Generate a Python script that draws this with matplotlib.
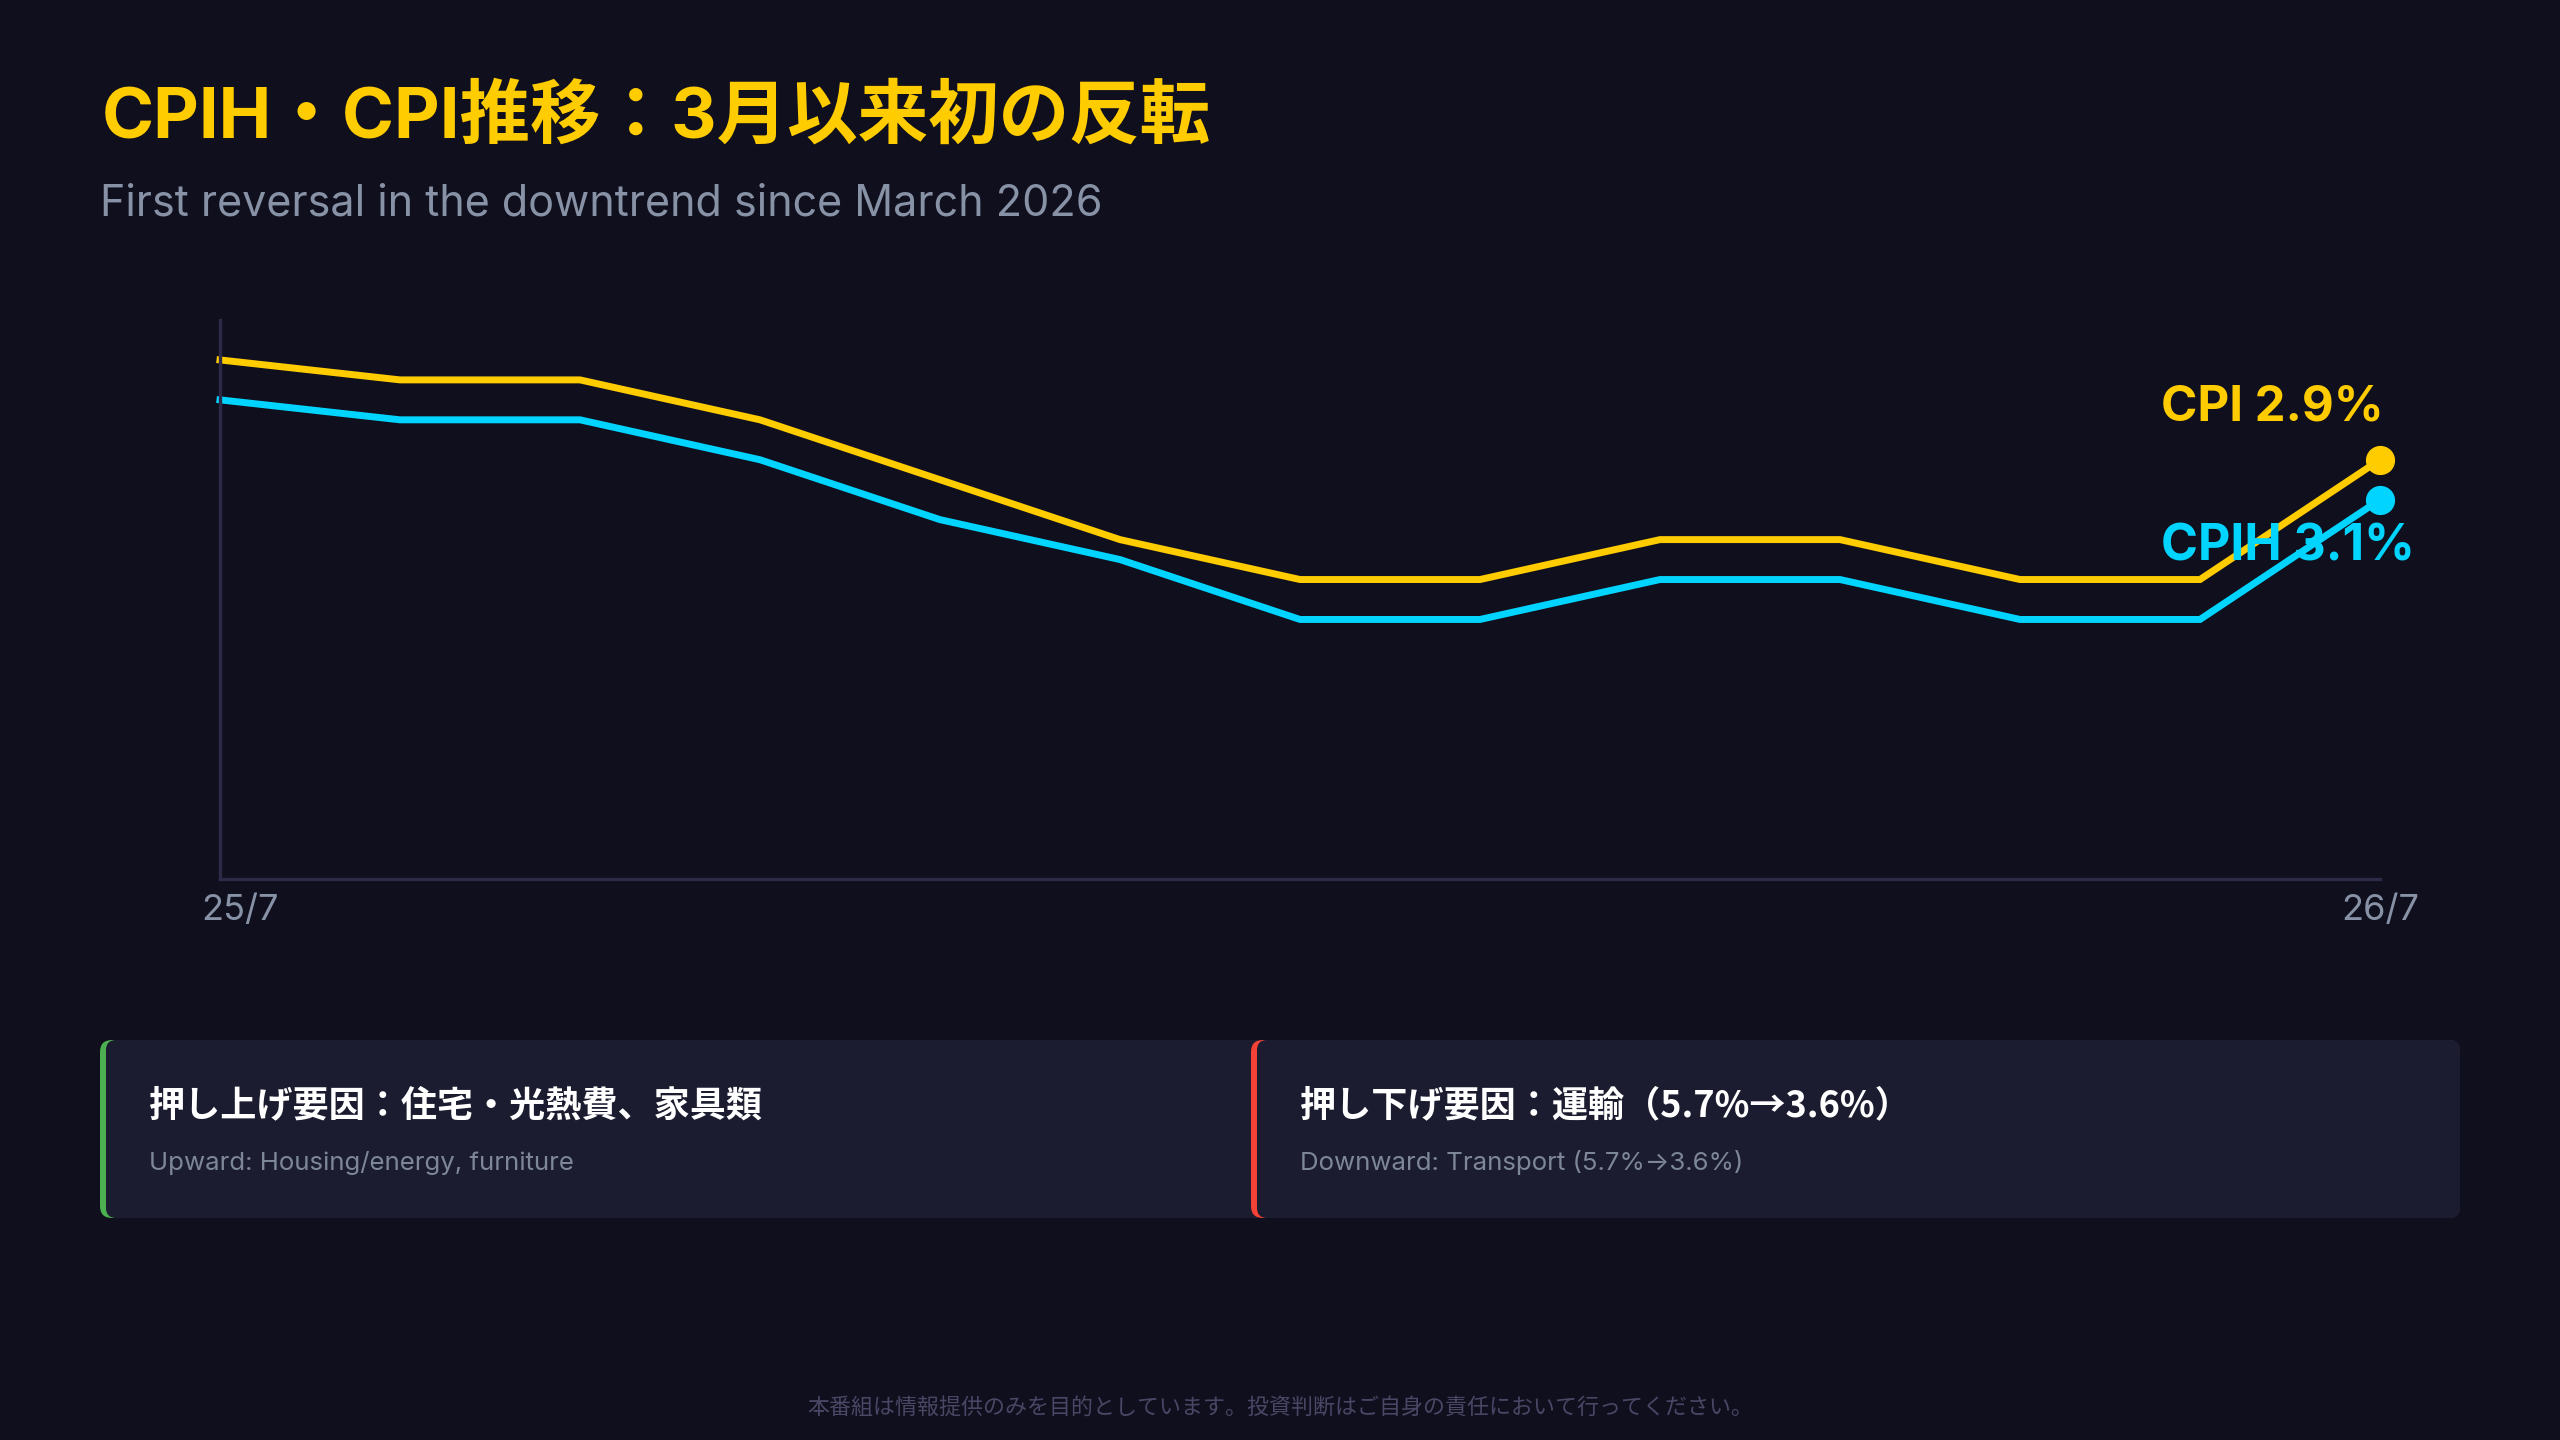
import matplotlib
matplotlib.use('Agg')
import matplotlib.pyplot as plt
from matplotlib.patches import FancyBboxPatch

plt.rcParams['font.family'] = ['Inter', 'Noto Sans CJK JP', 'DejaVu Sans']

# data
months = ['25/7', '25/8', '25/9', '25/10', '25/11', '25/12', '26/1',
          '26/2', '26/3', '26/4', '26/5', '26/6', '26/7']
cpi_vals = [3.6, 3.5, 3.5, 3.3, 3.0, 2.7, 2.5, 2.5, 2.7, 2.7, 2.5, 2.5, 3.1]
cpih_vals = [3.4, 3.3, 3.3, 3.1, 2.8, 2.6, 2.3, 2.3, 2.5, 2.5, 2.3, 2.3, 2.9]
cpi_label = 'CPI 2.9%'
cpih_label = 'CPIH 3.1%'

title = 'CPIH・CPI推移：3月以来初の反転'
subtitle = 'First reversal in the downtrend since March 2026'
cards = [
    ('押し上げ要因：住宅・光熱費、家具類', 'Upward: Housing/energy, furniture', '#4caf50'),
    ('押し下げ要因：運輸（5.7%→3.6%）', 'Downward: Transport (5.7%→3.6%)', '#f44336'),
]
footer = '本番組は情報提供のみを目的としています。投資判断はご自身の責任において行ってください。'

BG = '#0f0f1d'
CARD = '#1b1c2f'
YELLOW = '#ffcc00'
CYAN = '#00d4ff'
GRAY = '#8892a6'
SPINE = '#2d2a48'

W, H = 2560, 1440
fig = plt.figure(figsize=(W / 100, H / 100), dpi=100, facecolor=BG)

# overlay in pixel coordinates for text and cards
bg = fig.add_axes([0, 0, 1, 1], zorder=0)
bg.set_xlim(0, W)
bg.set_ylim(H, 0)
bg.axis('off')

bg.text(102, 138, title, color=YELLOW, fontsize=50.8, fontweight='bold', va='baseline')
bg.text(100, 215, subtitle, color=GRAY, fontsize=31, va='baseline')

# cards
card_boxes = [(100, 1265), (1251, 2460)]
for (x0, x1), (head, sub, accent) in zip(card_boxes, cards):
    bg.add_patch(FancyBboxPatch((x0, 1040), x1 - x0, 178,
                                boxstyle='round,pad=0,rounding_size=12',
                                fc=accent, ec='none'))
    bg.add_patch(FancyBboxPatch((x0 + 6, 1040), x1 - x0 - 6, 178,
                                boxstyle='round,pad=0,rounding_size=10',
                                fc=CARD, ec='none'))
    bg.text(x0 + 49, 1106, head, color='white', fontsize=26, fontweight='bold', va='center',
            family=['Noto Sans CJK JP', 'DejaVu Sans'])
    bg.text(x0 + 49, 1170, sub, color='#7d8799', fontsize=18.6, va='baseline')

bg.text(1280, 1408, footer, color='#4a4766', fontsize=15.8, ha='center', va='center')

# chart
ax = fig.add_axes([220 / W, 1 - 879 / H, 2160 / W, 559 / H], zorder=1)
ax.set_facecolor('none')
x = list(range(len(months)))
ax.plot(x, cpi_vals, color=YELLOW, lw=5, solid_joinstyle='miter', clip_on=False)
ax.plot(x, cpih_vals, color=CYAN, lw=5, solid_joinstyle='miter', clip_on=False)
ax.plot(x[-1], cpi_vals[-1], 'o', color=YELLOW, ms=20, clip_on=False)
ax.plot(x[-1], cpih_vals[-1], 'o', color=CYAN, ms=20, clip_on=False)

ax.set_xlim(0, len(months) - 1)
ax.set_ylim(1.0, 3.8)
ax.set_xticks([])
ax.set_yticks([])
for side in ['top', 'right']:
    ax.spines[side].set_visible(False)
for side in ['left', 'bottom']:
    ax.spines[side].set_color(SPINE)
    ax.spines[side].set_linewidth(2.4)

ax.annotate(cpi_label, (x[-1], cpi_vals[-1]), xytext=(-219, 39), textcoords='offset pixels',
            color=YELLOW, fontsize=35.4, fontweight='bold', va='baseline', ha='left')
ax.annotate(cpih_label, (x[-1], cpih_vals[-1]), xytext=(-219, -61), textcoords='offset pixels',
            color=CYAN, fontsize=36, fontweight='bold', va='baseline', ha='left')

ax.annotate(months[0], (x[0], 1.0), xytext=(-19, -41), textcoords='offset pixels',
            color=GRAY, fontsize=26, va='baseline', ha='left')
ax.annotate(months[-1], (x[-1], 1.0), xytext=(0, -41), textcoords='offset pixels',
            color=GRAY, fontsize=26, va='baseline', ha='center')

fig.savefig('out.png', dpi=100, facecolor=BG)
